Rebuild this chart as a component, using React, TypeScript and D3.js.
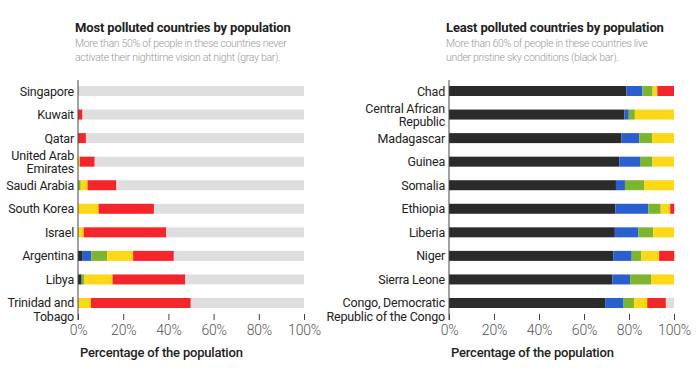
import React, { useEffect, useRef } from 'react';
import * as d3 from 'd3';

// segment order: pristine (black), blue, green, yellow, red, no night vision (gray)
const keys = ['black', 'blue', 'green', 'yellow', 'red', 'gray'];
const colors = ['#2b2b2b', '#2a5fd0', '#7db52f', '#fdd817', '#f5262b', '#dedede'];

const mostCountries = ['Singapore', 'Kuwait', 'Qatar', 'United Arab|Emirates', 'Saudi Arabia', 'South Korea', 'Israel', 'Argentina', 'Libya', 'Trinidad and|Tobago'];
const mostBlack = [0, 0, 0, 0, 0, 0, 0, 1.8, 1.6, 0];
const mostBlue = [0, 0, 0, 0, 0, 0, 0, 4.1, 0, 0];
const mostGreen = [0, 0, 0, 0, 1.2, 0, 0, 7, 1.2, 0];
const mostYellow = [0, 0, 0, 0.8, 3, 9.1, 2.5, 11.5, 12.5, 5.7];
const mostRed = [0, 2, 3.5, 6.6, 12.8, 24.5, 36.6, 18, 32.2, 44.2];

const leastCountries = ['Chad', 'Central African|Republic', 'Madagascar', 'Guinea', 'Somalia', 'Ethiopia', 'Liberia', 'Niger', 'Sierra Leone', 'Congo, Democratic|Republic of the Congo'];
const leastBlack = [78.9, 78, 76.7, 75.7, 74.2, 73.9, 73.7, 73, 72.6, 69.4];
const leastBlue = [7.1, 1.9, 7.9, 9.2, 4, 14.7, 10.4, 8.2, 7.9, 8.2];
const leastGreen = [4.5, 2.7, 5.6, 5.5, 8.5, 5.5, 6.7, 4.2, 9.3, 4.7];
const leastYellow = [2.1, 17.4, 9.8, 9.6, 13.3, 4.2, 9.2, 8, 10.2, 5.8];
const leastRed = [7.4, 0, 0, 0, 0, 1.8, 0, 6.7, 0, 8.3];

const xTicks = [0, 20, 40, 60, 80, 100];
const axisTitle = 'Percentage of the population';

const FONT = "Roboto, sans-serif";

function rows(countries, black, blue, green, yellow, red) {
  return countries.map((c, i) => {
    const used = black[i] + blue[i] + green[i] + yellow[i] + red[i];
    return { country: c, black: black[i], blue: blue[i], green: green[i], yellow: yellow[i], red: red[i], gray: Math.max(0, 100 - used) };
  });
}

function Panel({ x0, x1, title, subtitle, data }) {
  const axisRef = useRef(null);
  const x = d3.scaleLinear().domain([0, 100]).range([x0, x1]);
  const y = d3.scalePoint().domain(data.map(d => d.country)).range([91, 303]);
  const barH = 10;
  const stacked = d3.stack().keys(keys)(data);

  useEffect(() => {
    const g = d3.select(axisRef.current);
    g.selectAll('*').remove();
    g.call(d3.axisBottom(x).tickValues(xTicks).tickSize(6).tickPadding(5).tickFormat(d => d + '%'));
    g.select('.domain').remove();
    g.selectAll('.tick line').attr('stroke', '#444');
    g.selectAll('.tick text')
      .attr('font-family', FONT)
      .attr('font-size', 14)
      .attr('font-weight', 300)
      .attr('letter-spacing', -0.2)
      .attr('fill', '#555');
  });

  return (
    <g>
      <text x={x0 - 3} y={32} fontFamily={FONT} fontSize={13} fontWeight={700} letterSpacing={-0.15} fill="#222">{title}</text>
      {subtitle.map((s, i) => (
        <text key={i} x={x0 - 3} y={47 + i * 14} fontFamily={FONT} fontSize={10.5} fontWeight={300} letterSpacing={-0.3} fill="#999">{s}</text>
      ))}
      {stacked.map((layer, li) => (
        <g key={layer.key} fill={colors[li]}>
          {layer.map((d, i) => (
            d[1] - d[0] > 0 ? (
              <rect key={i} x={x(d[0])} y={y(data[i].country) - barH / 2} width={x(d[1]) - x(d[0])} height={barH} />
            ) : null
          ))}
        </g>
      ))}
      {data.map((d, i) => {
        const lines = d.country.split('|');
        const last = i === data.length - 1;
        const cy = y(d.country);
        const start = lines.length === 1 ? cy + 4.5 : (last ? cy + 4 : cy - 2);
        return (
          <text key={d.country} textAnchor="end" fontFamily={FONT} fontSize={12.5} letterSpacing={-0.2} fill="#222">
            {lines.map((l, j) => (
              <tspan key={j} x={x0 - 4} y={start + j * 13.5}>{l}</tspan>
            ))}
          </text>
        );
      })}
      <line x1={x0} x2={x0} y1={80} y2={320} stroke="#444" strokeWidth={1} />
      <g ref={axisRef} transform="translate(0,314)" />
      <text x={x0 + 2} y={357} fontFamily={FONT} fontSize={13} fontWeight={500} letterSpacing={-0.2} fill="#222">{axisTitle}</text>
    </g>
  );
}

export default function App() {
  const most = rows(mostCountries, mostBlack, mostBlue, mostGreen, mostYellow, mostRed);
  const least = rows(leastCountries, leastBlack, leastBlue, leastGreen, leastYellow, leastRed);
  return (
    <svg width={700} height={385} style={{ position: 'absolute', left: 0, top: 0, background: '#fff' }}>
      <Panel x0={78} x1={304} title="Most polluted countries by population"
        subtitle={['More than 50% of people in these countries never', 'activate their nighttime vision at night (gray bar).']}
        data={most} />
      <Panel x0={449} x1={674} title="Least polluted countries by population"
        subtitle={['More than 60% of people in these countries live', 'under pristine sky conditions (black bar).']}
        data={least} />
    </svg>
  );
}
